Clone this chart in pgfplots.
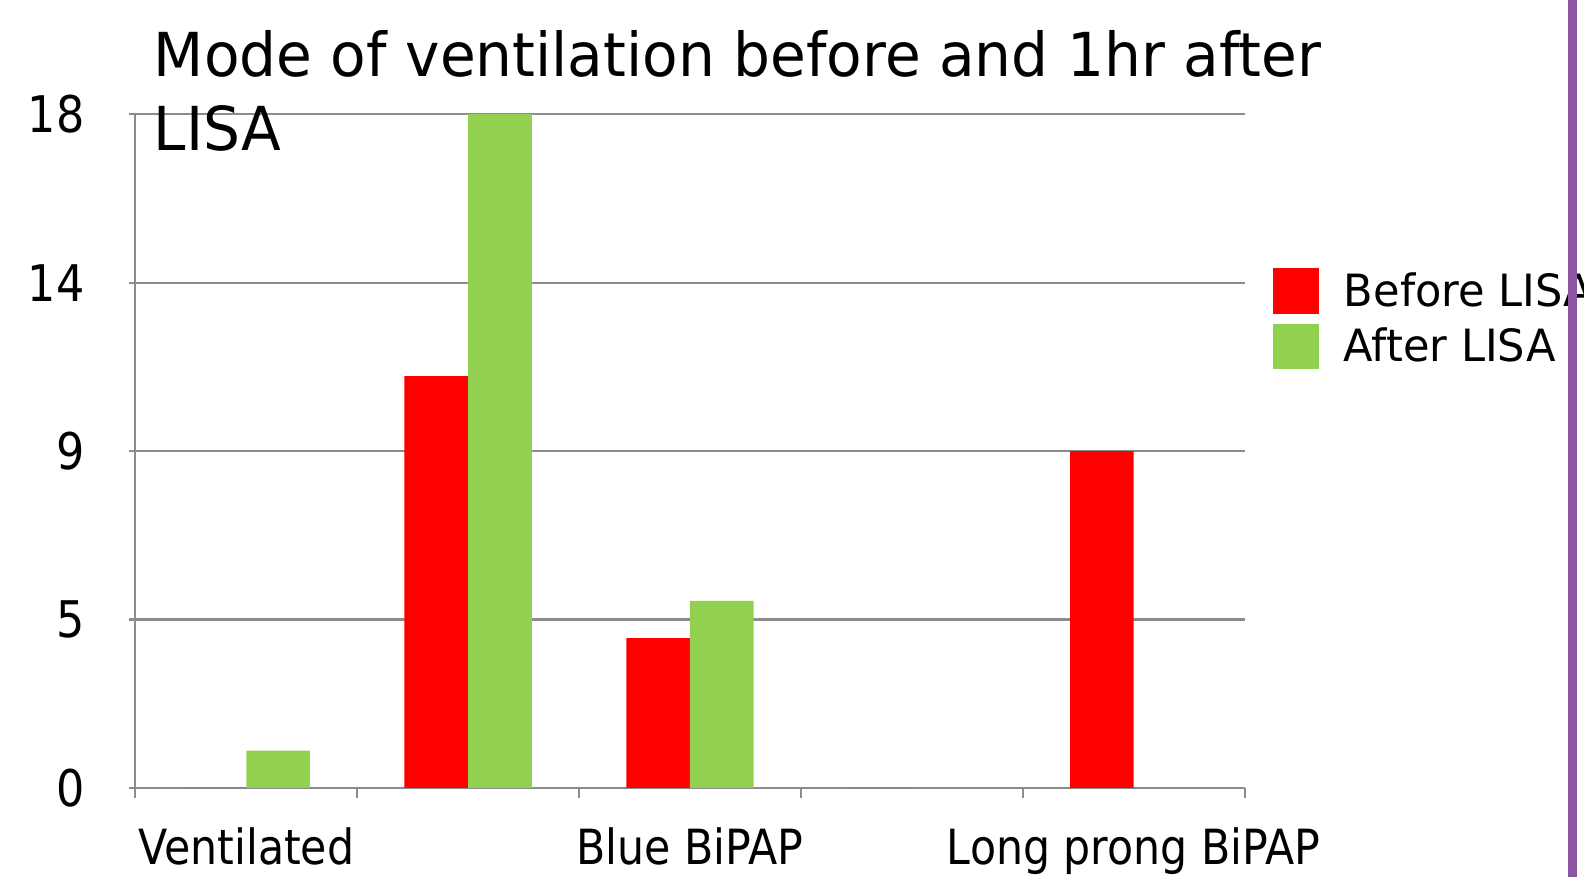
\documentclass[border=0pt]{standalone}
\usepackage{pgfplots}
\pgfplotsset{compat=1.18}
\usepackage{fontspec}
\setmainfont{DejaVu Sans}[FakeStretch=0.88]
\newfontfamily\widefont{DejaVu Sans}[FakeStretch=0.96]
\newfontfamily\legfont{DejaVu Sans}[FakeStretch=0.97]
\definecolor{barred}{HTML}{FF0000}
\definecolor{bargreen}{HTML}{92D050}
\definecolor{gridgray}{HTML}{8C8C8C}
\definecolor{slidepurple}{HTML}{8B55A3}
\begin{document}
\begin{tikzpicture}
\useasboundingbox (0,0) rectangle (784bp,434bp);
\begin{axis}[
  at={(67bp,44bp)}, anchor=south west, scale only axis,
  width=549bp, height=333.5bp,
  ybar=0pt, bar width=31.5bp,
  xmin=-0.5, xmax=4.5, ymin=0, ymax=18,
  axis x line*=bottom, axis y line*=left,
  axis line style={gridgray, line width=1bp},
  every axis x line/.append style={-},
  every axis y line/.append style={-},
  xtick={0,...,4},
  xticklabels={Ventilated,,Blue BiPAP,,Long prong BiPAP},
  major x tick style={draw=none},
  minor xtick={-0.5,0.5,...,4.5},
  minor x tick style={gridgray, line width=1bp},
  minor tick length=5bp,
  ytick={0,4.5,9,13.5,18},
  yticklabels={0,5,9,14,18},
  major y tick style={gridgray, line width=1bp},
  major tick length=3bp,
  tick align=outside,
  ymajorgrids, grid style={gridgray, line width=1bp},
  xticklabel style={inner sep=0pt, font=\fontsize{24bp}{24bp}\selectfont, yshift=-16.5bp},
  yticklabel style={inner sep=0pt, font=\fontsize{25bp}{25bp}\selectfont, xshift=-22bp},
  legend style={at={(1.0255,0.772)}, anchor=north west, draw=none, fill=none,
    inner sep=0pt, row sep=5bp, column sep=12.5bp,
    font=\legfont\fontsize{22bp}{22bp}\selectfont,
    nodes={inner sep=0pt}, cells={anchor=west}},
  clip=false,
]
\addplot[fill=barred, draw=none,
  legend image code/.code={\fill[barred] (0bp,-11.25bp) rectangle (22.5bp,11.25bp);}]
  coordinates {(0,0) (1,11) (2,4) (3,0) (4,9)};
\addplot[fill=bargreen, draw=none,
  legend image code/.code={\fill[bargreen] (0bp,-11.25bp) rectangle (22.5bp,11.25bp);}]
  coordinates {(0,1) (1,18) (2,5) (3,0) (4,0)};
\legend{Before LISA, After LISA}
\end{axis}
\node[anchor=base west, inner sep=0pt, font=\widefont\fontsize{30bp}{30bp}\selectfont] at (76bp,396bp) {Mode of ventilation before and 1hr after};
\node[anchor=base west, inner sep=0pt, font=\widefont\fontsize{30bp}{30bp}\selectfont] at (76bp,359.5bp) {LISA};
\fill[slidepurple] (776bp,0) rectangle (780.5bp,434bp);
\end{tikzpicture}
\end{document}
